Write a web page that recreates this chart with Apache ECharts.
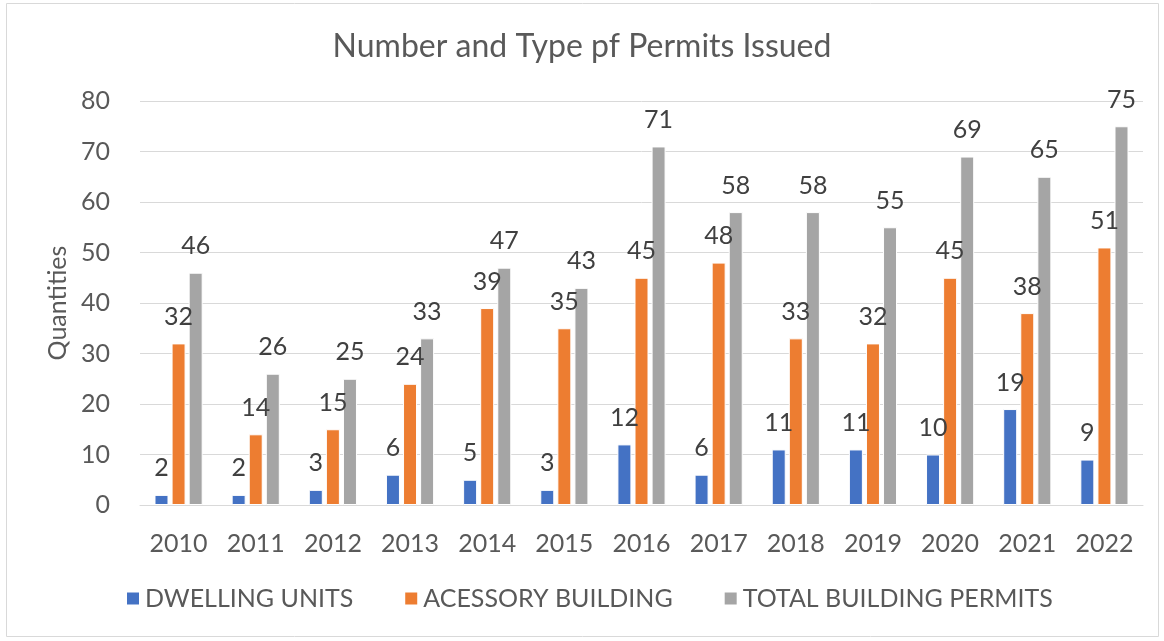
<!DOCTYPE html>
<html><head><meta charset="utf-8">
<script src="https://cdn.jsdelivr.net/npm/echarts@6/dist/echarts.min.js"></script>
<style>html,body{margin:0;padding:0;background:#fff}#c{width:1164px;height:641px}</style>
</head><body><div id="c"></div>
<script>
const years = ['2010','2011','2012','2013','2014','2015','2016','2017','2018','2019','2020','2021','2022'];
const dwellingUnits = [2,2,3,6,5,3,12,6,11,11,10,19,9];
const accessoryBuilding = [32,14,15,24,39,35,45,48,33,32,45,38,51];
const totalBuildingPermits = [46,26,25,33,47,43,71,58,58,55,69,65,75];
const seriesNames = ['DWELLING UNITS','ACESSORY BUILDING','TOTAL BUILDING PERMITS'];
const colors = ['#4472C4','#ED7D31','#A5A5A5'];
const FONT = 'Lato, "Open Sans", sans-serif';

const chart = echarts.init(document.getElementById('c'));
function mk(name, data, color){
  return {
    name, type:'bar', data, barWidth:14, barGap:'22%',
    itemStyle:{color, borderColor:'#fff', borderWidth:1},
    label:{show:true, position:'top', distance:14, color:'#404040', fontSize:25, fontFamily:FONT}
  };
}
chart.setOption({
  animation:false,
  textStyle:{fontFamily:FONT},
  graphic:[{type:'rect', shape:{x:6.5,y:3.5,width:1152,height:633}, style:{fill:'none', stroke:'#d9d9d9', lineWidth:1}, silent:true, z:-1}],
  title:{text:'Number and Type pf Permits Issued', left:'center', top:26,
    textStyle:{fontSize:32, fontWeight:'normal', color:'#595959', fontFamily:FONT}},
  legend:{bottom:25, left:120, itemWidth:14, itemHeight:14, itemGap:50, icon:'rect',
    textStyle:{fontSize:25, color:'#595959', fontFamily:FONT}},
  grid:{left:140, right:21, top:101, bottom:136},
  xAxis:{type:'category', data:years,
    axisLine:{lineStyle:{color:'#d9d9d9', width:1}}, axisTick:{show:false},
    axisLabel:{fontSize:25, color:'#595959', margin:26, fontFamily:FONT}},
  yAxis:{type:'value', min:0, max:80, interval:10, name:'Quantities', nameLocation:'middle', nameGap:67, nameRotate:90,
    nameTextStyle:{fontSize:25, color:'#595959', fontFamily:FONT},
    axisLine:{show:false}, axisTick:{show:false},
    axisLabel:{fontSize:25, color:'#595959', margin:30, fontFamily:FONT},
    splitLine:{lineStyle:{color:'#d9d9d9', width:1}}},
  series:[mk(seriesNames[0], dwellingUnits, colors[0]), mk(seriesNames[1], accessoryBuilding, colors[1]), mk(seriesNames[2], totalBuildingPermits, colors[2])]
});
</script></body></html>
